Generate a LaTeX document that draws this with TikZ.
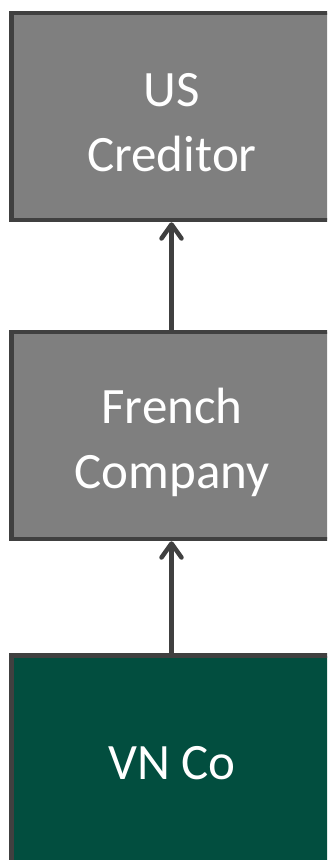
\documentclass[tikz,border=0pt]{standalone}
\usepackage{fontspec}
\setmainfont{Carlito}
\usetikzlibrary{arrows.meta}
\definecolor{boxgray}{RGB}{127,127,127}
\definecolor{edgegray}{RGB}{64,64,64}
\definecolor{vngreen}{RGB}{2,78,63}
\tikzset{
  entity/.style={draw=edgegray, line width=4.5pt, rectangle,
    minimum width=320pt, minimum height=207pt, inner sep=0pt},
  entitytext/.style={text=white, align=center, inner sep=0pt,
    font=\fontsize{51pt}{65pt}\selectfont, text height=33pt, text depth=0pt},
  link/.style={draw=edgegray, line width=4.5pt,
    -{Straight Barb[round, length=14pt, width=20pt]}}
}
\begin{document}
\begin{tikzpicture}[x=1pt, y=1pt]
  \useasboundingbox (0,0) rectangle (327,-860);
  \clip (0,0) rectangle (327,-860);

  % entity boxes (they run past the right and bottom edges)
  \node[entity, fill=boxgray] (creditor) at (171.5,-116.5) {};
  \node[entity, fill=boxgray] (french)   at (171.5,-435.5) {};
  \node[entity, fill=vngreen] (vnco)     at (171.5,-759)   {};

  % box captions
  \node[entitytext] (creditorlabel) at (172,-155) {US\\Creditor};
  \node[entitytext] (frenchlabel)   at (172,-471.5) {French\\Company};
  \node[entitytext] (vncolabel)     at (172,-762.5) {VN Co};

  % ownership links
  \draw[link] (french.north) -- (creditor.south);
  \draw[link] (vnco.north) -- (french.south);
\end{tikzpicture}
\end{document}
